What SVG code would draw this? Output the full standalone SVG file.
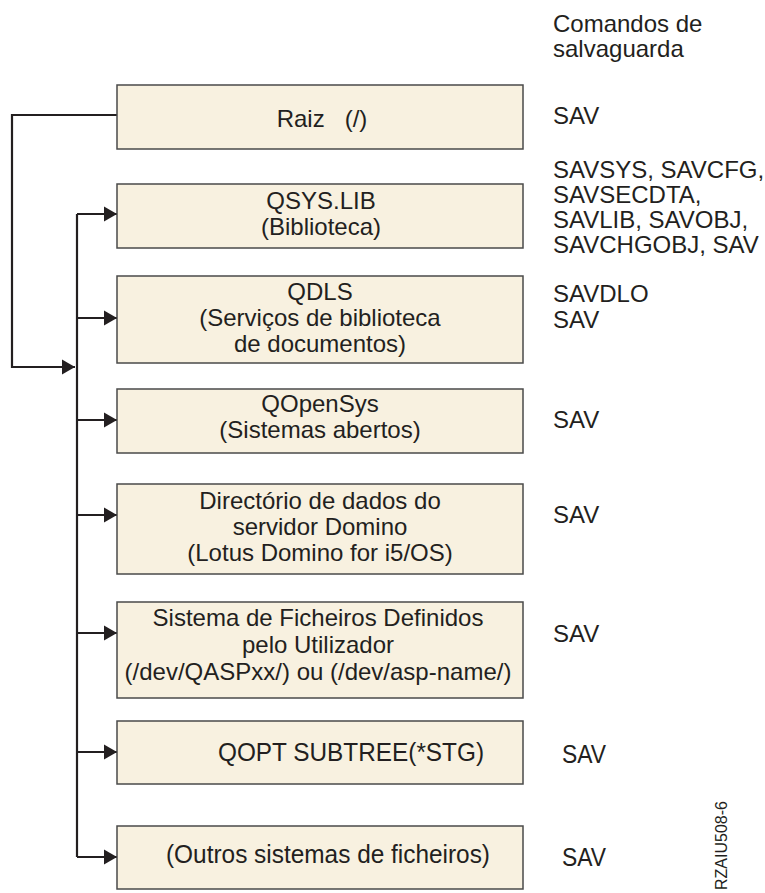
<svg xmlns="http://www.w3.org/2000/svg" width="765" height="893" viewBox="0 0 765 893">
<style>
.box{fill:#f8f1e0;stroke:#4a4a4a;stroke-width:1.5}
.t{font-family:"Liberation Sans",Arial,sans-serif;font-size:24px;fill:#231f20}
.c{text-anchor:middle}
.n{font-family:"Liberation Sans Narrow","Liberation Sans",Arial,sans-serif;font-size:26px}
.ln{fill:none;stroke:#231f20;stroke-width:2.2}
</style>
<defs>
<marker id="ah" markerUnits="userSpaceOnUse" markerWidth="16" markerHeight="16" refX="13" refY="8" orient="auto">
<path d="M0,0.5 L13,8 L0,15.5 Z" fill="#231f20"/>
</marker>
</defs>
<rect width="765" height="893" fill="#ffffff"/>
<g id="header">
<text class="t" x="553" y="32">Comandos de</text>
<text class="t" x="553" y="57">salvaguarda</text>
</g>
<g id="connectors">
<path class="ln" d="M117,115 H12 V367 H75" marker-end="url(#ah)"/>
<path class="ln" d="M77,214 V857"/>
<path class="ln" d="M77,214 H117" marker-end="url(#ah)"/>
<path class="ln" d="M77,318 H117" marker-end="url(#ah)"/>
<path class="ln" d="M77,420 H117" marker-end="url(#ah)"/>
<path class="ln" d="M77,515 H117" marker-end="url(#ah)"/>
<path class="ln" d="M77,633 H117" marker-end="url(#ah)"/>
<path class="ln" d="M77,752 H117" marker-end="url(#ah)"/>
<path class="ln" d="M77,857 H117" marker-end="url(#ah)"/>
</g>
<g id="raiz">
<rect class="box" x="117" y="85" width="406" height="64"/>
<text class="t c" x="322" y="127" xml:space="preserve">Raiz   (/)</text>
<text class="t" x="553" y="124">SAV</text>
</g>
<g id="qsyslib">
<rect class="box" x="117" y="184" width="406" height="64"/>
<text class="t c" x="321" y="209">QSYS.LIB</text>
<text class="t c" x="321" y="235">(Biblioteca)</text>
<text class="t" x="553" y="178">SAVSYS, SAVCFG,</text>
<text class="t" x="553" y="203">SAVSECDTA,</text>
<text class="t" x="553" y="228">SAVLIB, SAVOBJ,</text>
<text class="t" x="553" y="253">SAVCHGOBJ, SAV</text>
</g>
<g id="qdls">
<rect class="box" x="117" y="276" width="406" height="87"/>
<text class="t c" x="320" y="300">QDLS</text>
<text class="t c" x="320" y="326">(Serviços de biblioteca</text>
<text class="t c" x="320" y="352">de documentos)</text>
<text class="t" x="553" y="302">SAVDLO</text>
<text class="t" x="553" y="328">SAV</text>
</g>
<g id="qopensys">
<rect class="box" x="117" y="389" width="406" height="64"/>
<text class="t c" x="320" y="412">QOpenSys</text>
<text class="t c" x="320" y="438">(Sistemas abertos)</text>
<text class="t" x="553" y="428">SAV</text>
</g>
<g id="domino">
<rect class="box" x="117" y="484" width="406" height="90"/>
<text class="t c" x="320" y="509">Directório de dados do</text>
<text class="t c" x="320" y="535">servidor Domino</text>
<text class="t c" x="320" y="561">(Lotus Domino for i5/OS)</text>
<text class="t" x="553" y="523">SAV</text>
</g>
<g id="udfs">
<rect class="box" x="117" y="602" width="406" height="96"/>
<text class="t c" x="318" y="626">Sistema de Ficheiros Definidos</text>
<text class="t c" x="318" y="653">pelo Utilizador</text>
<text class="t c" x="318" y="680">(/dev/QASPxx/) ou (/dev/asp-name/)</text>
<text class="t" x="553" y="642">SAV</text>
</g>
<g id="qopt">
<rect class="box" x="117" y="721" width="406" height="63"/>
<text class="t n" x="218" y="761" textLength="266" lengthAdjust="spacingAndGlyphs">QOPT SUBTREE(*STG)</text>
<text class="t n" x="562" y="763" textLength="44" lengthAdjust="spacingAndGlyphs">SAV</text>
</g>
<g id="outros">
<rect class="box" x="117" y="826" width="406" height="63"/>
<text class="t n" x="166" y="863" textLength="324" lengthAdjust="spacingAndGlyphs">(Outros sistemas de ficheiros)</text>
<text class="t n" x="562" y="866" textLength="44" lengthAdjust="spacingAndGlyphs">SAV</text>
</g>
<g id="figure-id">
<text x="727" y="890" transform="rotate(-90 727 890)" style="font-family:'Liberation Sans',Arial,sans-serif;font-size:16px;fill:#231f20">RZAIU508-6</text>
</g>
</svg>
